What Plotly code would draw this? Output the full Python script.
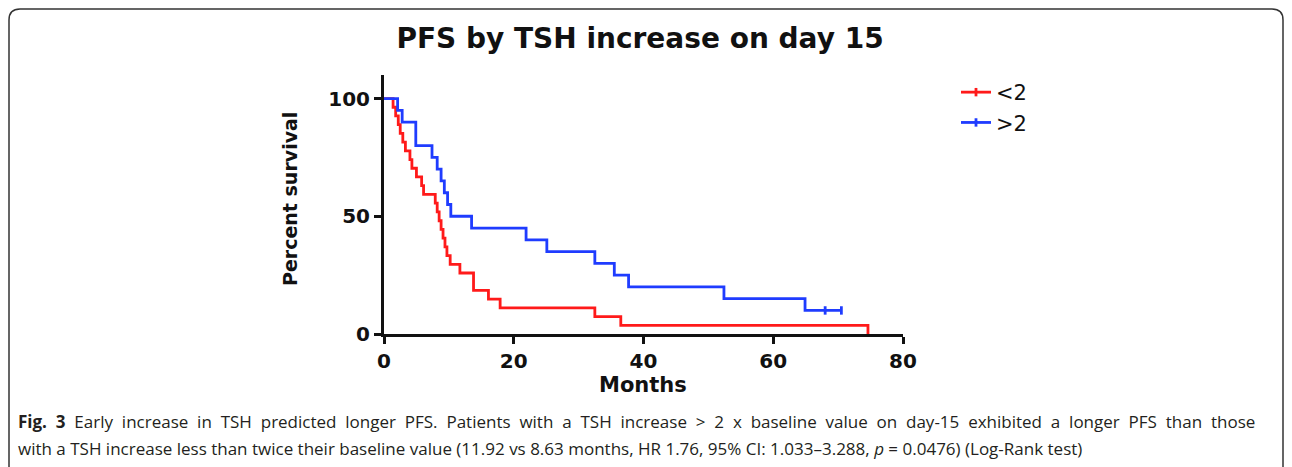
import plotly.graph_objects as go

# ---- data ----
red_name = "&lt;2"
blue_name = "&gt;2"
red_months = [0, 1.4, 1.8, 2.2, 2.5, 2.9, 3.3, 4.0, 4.3, 5.0, 5.8, 6.1,
              7.9, 8.2, 8.5, 8.8, 9.1, 9.4, 9.7, 10.2,
              11.7, 13.8, 16.1, 17.9, 32.5, 36.5, 74.6]
red_surv = [100, 96.3, 92.6, 88.9, 85.2, 81.5, 77.8, 74.1, 70.4, 66.7, 63.0, 59.3,
            55.6, 51.9, 48.1, 44.4, 40.7, 37.0, 33.3, 29.6,
            25.9, 18.5, 14.8, 11.1, 7.4, 3.7, 0]
blue_months = [0, 2.1, 2.8, 4.9, 7.4, 8.2, 8.8, 9.3, 9.8, 10.3,
               13.5, 21.9, 25.1, 32.5, 35.5, 37.7, 52.4, 64.9, 70.5]
blue_surv = [100, 95, 90, 80, 75, 70, 65, 60, 55, 50,
             45, 40, 35, 30, 25, 20, 15, 10, 10]
blue_censor_months = [68.0, 70.5]
blue_censor_surv = [10, 10]

x_ticks = [0, 20, 40, 60, 80]
y_ticks = [0, 50, 100]

title = "PFS by TSH increase on day 15"
x_title = "Months"
y_title = "Percent survival"
caption1_words = ["<b>Fig.", "3</b>", "Early", "increase", "in", "TSH", "predicted", "longer", "PFS.", "Patients",
                  "with", "a", "TSH", "increase", "&gt;", "2", "x", "baseline", "value", "on", "day-15",
                  "exhibited", "a", "longer", "PFS", "than", "those"]
caption2 = ("with a TSH increase less than twice their baseline value (11.92 vs 8.63 months, HR 1.76, "
            "95% CI: 1.033\u20133.288, <i>p</i> = 0.0476) (Log-Rank test)")
# first caption line is justified in the reference: widen the word gaps
caption1 = " \u00a0".join(caption1_words)

RED = "#ff1a1a"
BLUE = "#1f3cff"

# ---- layout geometry (screen pixels; page body has an 8px margin) ----
OFF = 8
W, H = 1292 - OFF, 467 - OFF
L, R, T, B = 384 - OFF, 903 - OFF, 75 - OFF, 334 - OFF


def px(x):
    return (x - OFF - L) / (R - L)


def py(y):
    return (B - (y - OFF)) / (B - T)


fig = go.Figure()
fig.add_trace(go.Scatter(x=red_months, y=red_surv, mode="lines", line=dict(color=RED, width=2.8, shape="hv"),
                         showlegend=False, hoverinfo="skip"))
fig.add_trace(go.Scatter(x=blue_months, y=blue_surv, mode="lines", line=dict(color=BLUE, width=2.8, shape="hv"),
                         showlegend=False, hoverinfo="skip"))
fig.add_trace(go.Scatter(x=blue_censor_months, y=blue_censor_surv, mode="markers",
                         marker=dict(symbol="line-ns", size=6, line=dict(color=BLUE, width=2.8)),
                         showlegend=False, hoverinfo="skip"))
# legend entries (line with censor tick)
for name, col in [(red_name, RED), (blue_name, BLUE)]:
    fig.add_trace(go.Scatter(x=[None], y=[None], mode="lines+markers", name=name,
                             line=dict(color=col, width=2.8),
                             marker=dict(symbol="line-ns", size=6, line=dict(color=col, width=2.8))))

axis_font = dict(family="DejaVu Sans", size=20, color="#111", weight="bold")
fig.update_xaxes(range=[0, 80], tickvals=x_ticks, ticks="outside", ticklen=7, tickwidth=3, tickcolor="#111",
                 showline=True, linewidth=3, linecolor="#111", showgrid=False, zeroline=False,
                 tickfont=axis_font)
fig.update_yaxes(range=[0, 110], tickvals=y_ticks, ticks="outside", ticklen=7, tickwidth=3, tickcolor="#111",
                 showline=True, linewidth=3, linecolor="#111", showgrid=False, zeroline=False,
                 tickfont=axis_font)

frame = (f"M {px(9)},{py(490)} V {py(20)} Q {px(9)},{py(9)} {px(20)},{py(9)} "
         f"H {px(1272)} Q {px(1283)},{py(9)} {px(1283)},{py(20)} V {py(490)}")
fig.add_shape(type="path", path=frame, xref="paper", yref="paper",
              line=dict(color="#333", width=1.5), fillcolor="rgba(0,0,0,0)")

annotations = [
    dict(text=y_title, x=px(290), y=py(199), textangle=-90, showarrow=False, xanchor="center", yanchor="middle",
         font=dict(family="DejaVu Sans", size=19, color="#111", weight="bold")),
    dict(text=x_title, x=px(643), y=py(385), showarrow=False, xanchor="center", yanchor="middle",
         font=dict(family="DejaVu Sans", size=21, color="#111", weight="bold")),
    dict(text=caption1, x=px(16), y=py(421), showarrow=False, xanchor="left", yanchor="middle",
         font=dict(family="Open Sans", size=17, color="#231f20")),
    dict(text=caption2, x=px(16), y=py(448), showarrow=False, xanchor="left", yanchor="middle",
         font=dict(family="Open Sans", size=17, color="#231f20")),
]
for a in annotations:
    a.update(xref="paper", yref="paper")

fig.update_layout(
    width=W, height=H,
    margin=dict(l=L, r=W - R, t=T, b=H - B, autoexpand=False),
    paper_bgcolor="white", plot_bgcolor="white",
    title=dict(text=title, x=px(640), xref="paper", y=1 - (38 - OFF) / H, yref="container", xanchor="center",
               yanchor="middle", font=dict(family="DejaVu Sans", size=28, color="#111", weight="bold")),
    legend=dict(x=px(956), y=py(72), xanchor="left", yanchor="top", xref="paper", yref="paper",
                font=dict(family="DejaVu Sans", size=21, color="#111"), bgcolor="rgba(0,0,0,0)",
                tracegroupgap=0, itemwidth=30),
    annotations=annotations,
)

fig.write_html("out.html")
